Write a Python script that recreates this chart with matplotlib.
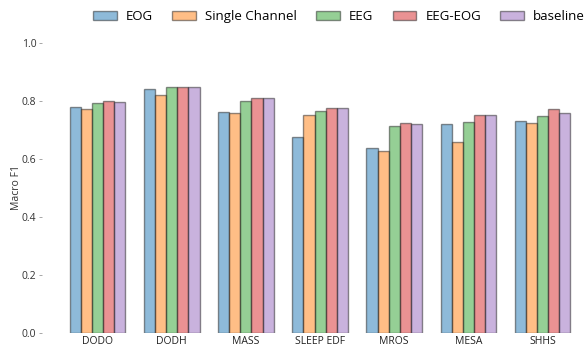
import numpy as np
import matplotlib.pyplot as plt

plt.rcParams['font.family'] = ['Open Sans', 'DejaVu Sans']

datasets = ['DODO', 'DODH', 'MASS', 'SLEEP EDF', 'MROS', 'MESA', 'SHHS']
series = ['EOG', 'Single Channel', 'EEG', 'EEG-EOG', 'baseline']

eog = [0.778, 0.840, 0.762, 0.675, 0.638, 0.721, 0.731]
single_channel = [0.772, 0.821, 0.759, 0.752, 0.627, 0.658, 0.723]
eeg = [0.793, 0.848, 0.800, 0.766, 0.715, 0.727, 0.747]
eeg_eog = [0.800, 0.848, 0.809, 0.775, 0.723, 0.752, 0.771]
baseline = [0.797, 0.848, 0.809, 0.775, 0.722, 0.752, 0.760]

values = [eog, single_channel, eeg, eeg_eog, baseline]
colors = ['tab:blue', 'tab:orange', 'tab:green', 'tab:red', 'tab:purple']

fig = plt.figure(figsize=(5.87, 3.47), dpi=100)
ax = fig.add_axes([42 / 587, 14 / 347, 1 - 42 / 587, 290 / 347])

x = np.arange(len(datasets))
width = 0.15
for i, (name, vals) in enumerate(zip(series, values)):
    ax.bar(x + (i - 2) * width, vals, width, label=name,
           color=colors[i], alpha=0.5, edgecolor='#222222', linewidth=1.0)

ax.set_xlim(-0.75, 6.6)
ax.set_ylim(0, 1.0)
ax.set_yticks(np.arange(0, 1.01, 0.2))
ax.set_yticklabels([f'{v:.1f}' for v in np.arange(0, 1.01, 0.2)])
ax.set_xticks(x)
ax.set_xticklabels(datasets)
ax.tick_params(axis='x', length=0, labelsize=7.5, pad=2, colors='#222222')
ax.tick_params(axis='y', length=2, width=0.6, labelsize=7.5, pad=2,
               colors='#999999', labelcolor='#333333')
ax.set_ylabel('Macro F1', fontsize=7.5, color='#333333', labelpad=0)
for s in ax.spines.values():
    s.set_visible(False)

fig.legend(loc='upper center', bbox_to_anchor=(339 / 587, 1.005), ncol=5,
           frameon=False, fontsize=9.5, handlelength=1.8, handleheight=0.7,
           handletextpad=0.7, columnspacing=1.45)

fig.savefig('out.png', dpi=100)
